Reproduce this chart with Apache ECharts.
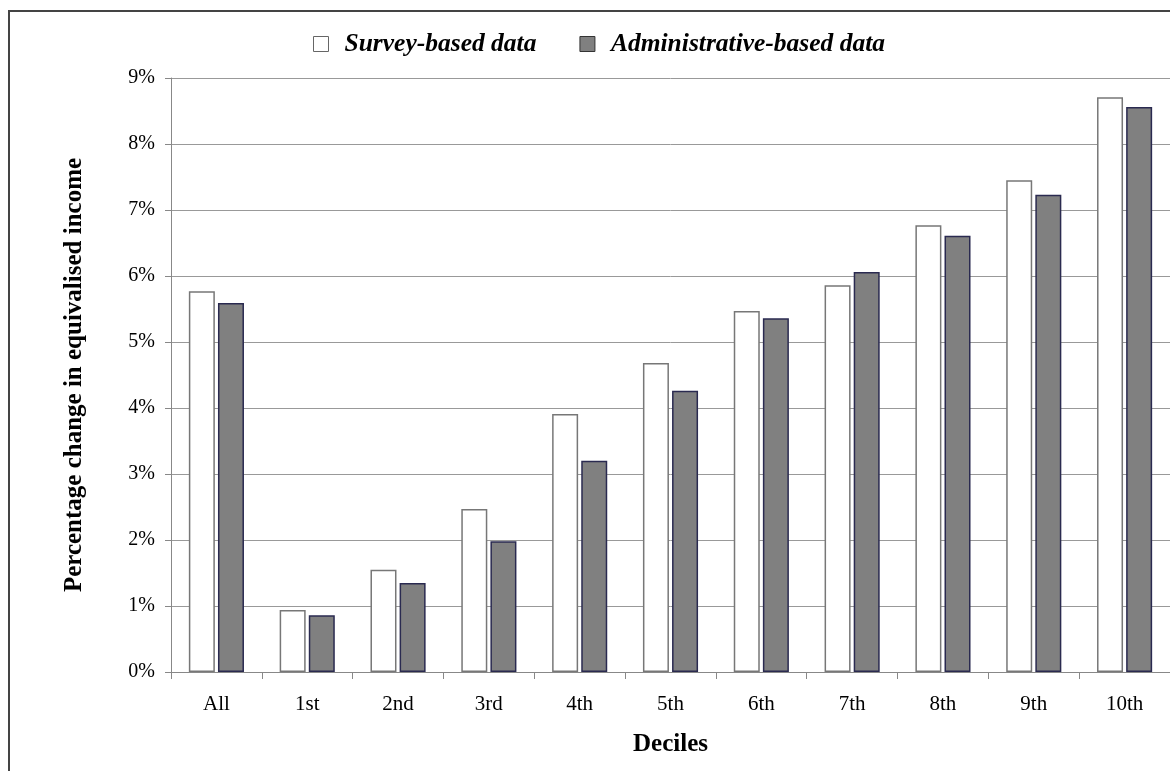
<!DOCTYPE html>
<html>
<head>
<meta charset="utf-8">
<script src="https://cdn.jsdelivr.net/npm/echarts@6/dist/echarts.min.js"></script>
<style>
html,body{margin:0;padding:0;background:#fff;}
#chart{width:1170px;height:771px;}
</style>
</head>
<body>
<div id="chart"></div>
<script>
const categories = ['All','1st','2nd','3rd','4th','5th','6th','7th','8th','9th','10th'];
const surveyValues = [5.77, 0.94, 1.55, 2.47, 3.91, 4.68, 5.47, 5.86, 6.77, 7.45, 8.71];
const adminValues = [5.59, 0.86, 1.35, 1.98, 3.20, 4.26, 5.36, 6.06, 6.61, 7.23, 8.56];
const seriesNames = ['Survey-based data', 'Administrative-based data'];
const yAxisTitle = 'Percentage change in equivalised income';
const xAxisTitle = 'Deciles';

const serif = '"Liberation Serif", "DejaVu Serif", serif';
const chart = echarts.init(document.getElementById('chart'));
chart.setOption({
  animation: false,
  backgroundColor: '#fff',
  graphic: [{
    type: 'rect', z: -10, silent: true,
    shape: { x: 9, y: 11, width: 1400, height: 1000 },
    style: { fill: 'none', stroke: '#444', lineWidth: 2 }
  }],
  legend: {
    top: 26, left: 308,
    icon: 'rect',
    itemWidth: 15, itemHeight: 15, itemGap: 43,
    textStyle: { fontFamily: serif, fontWeight: 'bold', fontStyle: 'italic', fontSize: 25.5, color: '#000', padding: [0,0,0,11] },
    data: [
      { name: seriesNames[0], itemStyle: { color: '#fff', borderColor: '#666', borderWidth: 1 } },
      { name: seriesNames[1], itemStyle: { color: '#808080', borderColor: '#333', borderWidth: 1 } }
    ]
  },
  grid: { left: 171, top: 78, right: 0, bottom: 99, containLabel: false },
  xAxis: {
    type: 'category', data: categories,
    name: xAxisTitle, nameLocation: 'middle', nameGap: 60,
    nameTextStyle: { fontFamily: serif, fontWeight: 'bold', fontSize: 25, color: '#000' },
    axisLine: { lineStyle: { color: '#888', width: 1 } },
    axisTick: { show: true, length: 7, lineStyle: { color: '#888' } },
    axisLabel: { fontFamily: serif, fontSize: 21, color: '#000', margin: 22 }
  },
  yAxis: {
    type: 'value', min: 0, max: 9, interval: 1,
    name: yAxisTitle, nameLocation: 'middle', nameGap: 84, nameRotate: 90,
    nameTextStyle: { fontFamily: serif, fontWeight: 'bold', fontSize: 25, color: '#000' },
    axisLine: { show: true, lineStyle: { color: '#888', width: 1 } },
    axisTick: { show: true, length: 6, lineStyle: { color: '#888' } },
    axisLabel: { fontFamily: serif, fontSize: 20, color: '#000', margin: 16, formatter: v => v + '%' },
    splitLine: { show: true, lineStyle: { color: '#999', width: 1 } }
  },
  series: [
    {
      name: seriesNames[0], type: 'bar', data: surveyValues,
      barWidth: 26, barGap: '12%',
      itemStyle: { color: '#fff', borderColor: '#777', borderWidth: 1.5 }
    },
    {
      name: seriesNames[1], type: 'bar', data: adminValues,
      barWidth: 26,
      itemStyle: { color: '#808080', borderColor: '#2a2a50', borderWidth: 1.5 }
    }
  ]
});
</script>
</body>
</html>
